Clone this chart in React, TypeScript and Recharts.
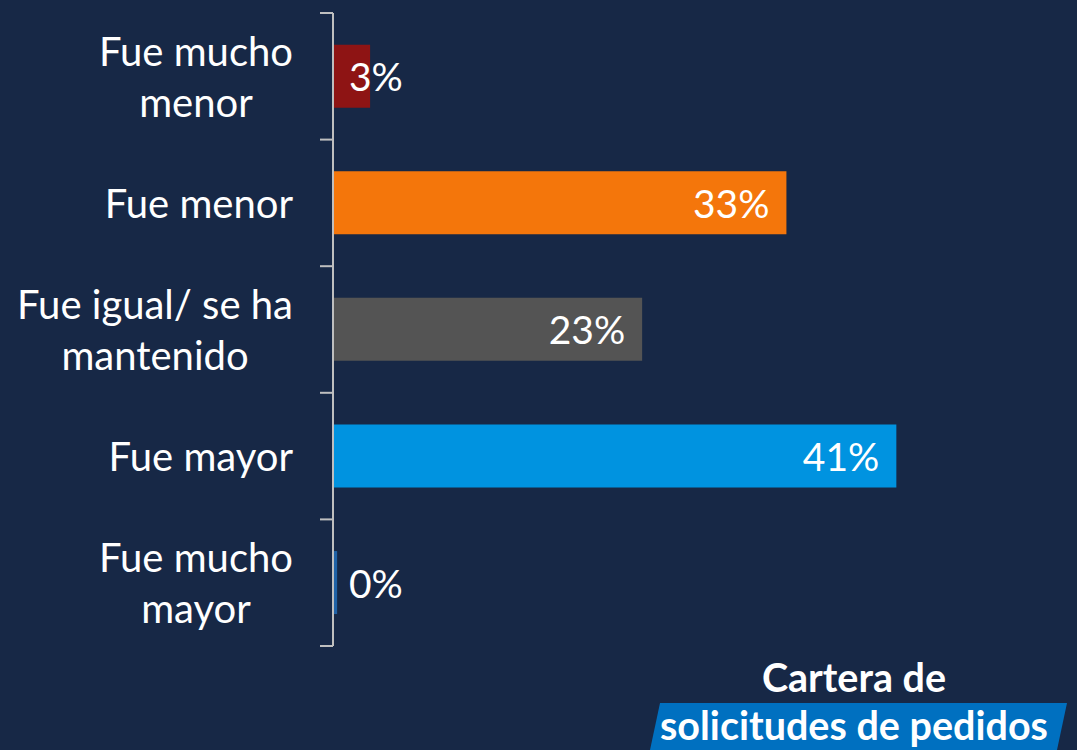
import { BarChart, Bar, XAxis, YAxis, Cell, LabelList } from 'recharts';

const categories = ['Fue mucho\nmenor', 'Fue menor', 'Fue igual/ se ha\nmantenido', 'Fue mayor', 'Fue mucho\nmayor'];
const values = [2.7, 33, 22.5, 41, 0.3];
const valueLabels = ['3%', '33%', '23%', '41%', '0%'];
const barColors = ['#8E1414', '#F4760B', '#545454', '#0093E0', '#2062A6'];

const BG = '#172846';
const FONT = 'Lato, "Open Sans", sans-serif';

const data = categories.map((name, i) => ({ name, value: values[i], label: valueLabels[i] }));

let measureCtx: CanvasRenderingContext2D | null = null;
const textWidth = (text: string, font: string) => {
  if (!measureCtx) measureCtx = document.createElement('canvas').getContext('2d');
  if (!measureCtx) return text.length * 18;
  measureCtx.font = font;
  return measureCtx.measureText(text).width;
};

const CategoryTick = (props: any) => {
  const { x, y, payload, index } = props;
  const band = 633 / categories.length;
  const lines = String(payload.value).split('\n');
  const maxW = Math.max(...lines.map((l) => textWidth(l, `40px Lato`)));
  const cx = x - 40 - maxW / 2;
  const lineH = 51;
  const y0 = y - ((lines.length - 1) * lineH) / 2;
  return (
    <g>
      <line x1={x - 13} x2={x} y1={y - band / 2} y2={y - band / 2} stroke="#BFBFBF" strokeWidth={2} />
      {index === categories.length - 1 && (
        <line x1={x - 13} x2={x} y1={y + band / 2} y2={y + band / 2} stroke="#BFBFBF" strokeWidth={2} />
      )}
      {lines.map((l, i) => (
        <text key={i} x={cx} y={y0 + i * lineH} textAnchor="middle" dominantBaseline="central" fill="#FFFFFF" fontSize={40} fontFamily={FONT}>
          {l}
        </text>
      ))}
    </g>
  );
};

const ValueLabel = (props: any) => {
  const { x, y, width, height, index } = props;
  const small = width < 80;
  return (
    <text
      x={small ? x + 16 : x + width - 17}
      y={y + height / 2}
      textAnchor={small ? 'start' : 'end'}
      dominantBaseline="central"
      fill="#FFFFFF"
      fontSize={39}
      fontFamily={FONT}
    >
      {valueLabels[index]}
    </text>
  );
};

export default function App() {
  return (
    <div style={{ position: 'absolute', left: 0, top: 0, width: 1077, height: 750, background: BG, overflow: 'hidden' }}>
      <BarChart
        width={1077}
        height={750}
        data={data}
        layout="vertical"
        margin={{ top: 13, right: 57, bottom: 104, left: 0 }}
        barCategoryGap="25%"
      >
        <XAxis type="number" domain={[0, 50]} hide />
        <YAxis
          type="category"
          dataKey="name"
          width={333}
          axisLine={{ stroke: '#BFBFBF', strokeWidth: 2 }}
          tickLine={false}
          tickSize={0}
          tickMargin={0}
          tick={<CategoryTick />}
          interval={0}
        />
        <Bar dataKey="value" isAnimationActive={false}>
          {data.map((_, i) => (
            <Cell key={i} fill={barColors[i]} />
          ))}
          <LabelList dataKey="label" content={<ValueLabel />} />
        </Bar>
      </BarChart>
      <svg width={1077} height={750} style={{ position: 'absolute', left: 0, top: 0, pointerEvents: 'none' }}>
        <polygon points="660,703 1067,703 1057,750 650,750" fill="#0070C0" />
        <text x={854} y={692} textAnchor="middle" fill="#FFFFFF" fontSize={39.5} fontWeight={700} fontFamily={FONT}>
          Cartera de
        </text>
        <text x={854} y={740} textAnchor="middle" fill="#FFFFFF" fontSize={39.5} fontWeight={700} fontFamily={FONT}>
          solicitudes de pedidos
        </text>
      </svg>
    </div>
  );
}
